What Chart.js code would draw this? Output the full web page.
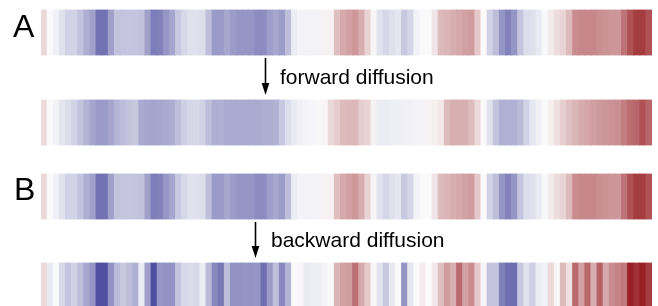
<!DOCTYPE html>
<html>
<head>
<meta charset="utf-8">
<script src="https://cdn.jsdelivr.net/npm/chart.js@4/dist/chart.umd.min.js"></script>
<style>
  html, body { margin: 0; padding: 0; background: #fff; }
  #wrap { width: 658px; height: 306px; }
</style>
</head>
<body>
<div id="wrap"><canvas id="strips"></canvas></div>
<script>
// cell index along the sequence
const cells = Array.from({ length: 100 }, (_, i) => String(i + 1));

// values in [-1, 1]: negative = blue, positive = red
const original = [
  0.15, 0, -0.05, -0.125, -0.2, -0.2, -0.275, -0.375, -0.45, -0.675,
  -0.675, -0.45, -0.275, -0.27, -0.265, -0.27, -0.28, -0.45, -0.625, -0.6,
  -0.5, -0.425, -0.25, -0.175, -0.125, -0.125, -0.15, -0.3, -0.475, -0.475,
  -0.42, -0.47, -0.5, -0.5, -0.5, -0.55, -0.55, -0.46, -0.42, -0.47,
  -0.3, -0.07, -0.03, -0.04, -0.04, -0.03, 0.04, 0.04, 0.26, 0.35,
  0.39, 0.43, 0.33, 0.17, 0.02, -0.12, -0.18, -0.13, -0.1, -0.25,
  -0.18, -0.04, 0, 0, 0.1, 0.28, 0.3, 0.33, 0.36, 0.39,
  0.41, 0.22, 0, -0.2, -0.3, -0.5, -0.6, -0.5, -0.27, -0.15,
  -0.13, -0.08, -0.01, 0.07, 0.13, 0.17, 0.28, 0.48, 0.5, 0.5,
  0.5, 0.47, 0.45, 0.44, 0.44, 0.59, 0.74, 0.83, 0.83, 0.74
];

const forward = [
  0.14, 0, -0.04, -0.1, -0.15, -0.2, -0.275, -0.35, -0.425, -0.475,
  -0.475, -0.425, -0.35, -0.3, -0.275, -0.25, -0.4, -0.42, -0.43, -0.42,
  -0.4, -0.38, -0.3, -0.22, -0.18, -0.17, -0.2, -0.3, -0.38, -0.37,
  -0.4, -0.4, -0.4, -0.4, -0.4, -0.4, -0.38, -0.38, -0.36, -0.25,
  -0.14, -0.08, -0.05, -0.03, -0.02, 0.01, 0.02, 0.15, 0.2, 0.27,
  0.29, 0.29, 0.2, 0.17, 0.04, -0.07, -0.07, -0.06, -0.06, -0.05,
  -0.05, -0.04, -0.03, 0.03, 0.05, 0.08, 0.28, 0.33, 0.33, 0.33,
  0.27, 0.15, 0, -0.12, -0.27, -0.37, -0.37, -0.37, -0.32, -0.2,
  -0.1, -0.05, 0, 0.05, 0.12, 0.19, 0.26, 0.3, 0.34, 0.37,
  0.4, 0.42, 0.44, 0.46, 0.47, 0.55, 0.62, 0.65, 0.74, 0.65
];

const backward = [
  0.15, -0.08, 0, -0.17, -0.27, -0.2, -0.3, -0.42, -0.5, -0.85,
  -0.85, -0.52, -0.32, -0.25, -0.3, -0.37, -0.07, -0.45, -0.85, -0.5,
  -0.52, -0.52, -0.27, -0.17, -0.15, -0.17, -0.07, -0.32, -0.57, -0.65,
  -0.3, -0.52, -0.52, -0.5, -0.52, -0.5, -0.7, -0.47, -0.3, -0.57,
  -0.35, 0, 0.02, -0.08, -0.06, -0.06, -0.03, -0.01, 0.3, 0.39,
  0.41, 0.6, 0.35, 0.22, 0.02, -0.12, -0.25, -0.09, 0, -0.5,
  -0.1, 0, 0.06, 0, 0.08, 0.26, 0.41, 0.33, 0.63, 0.39,
  0.48, 0.22, -0.02, -0.27, -0.27, -0.6, -0.7, -0.7, -0.25, -0.12,
  -0.22, -0.07, -0.05, 0.15, 0.02, 0.28, 0.12, 0.63, 0.39, 0.65,
  0.33, 0.67, 0.35, 0.48, 0.52, 0.57, 0.96, 0.89, 0.96, 0.83
];

// strip layout (vertical bands, in canvas rows)
const rows = [
  { name: 'A', values: original, top: 10, bottom: 55 },
  { name: 'A forward', values: forward, top: 100, bottom: 145 },
  { name: 'B', values: original, top: 174, bottom: 219 },
  { name: 'B backward', values: backward, top: 263, bottom: 308 }
];

const WHITE = [250, 250, 251];
const BLUE = [50, 50, 145];
const RED = [148, 22, 26];

function colorFor(v) {
  const end = v < 0 ? BLUE : RED;
  const t = Math.min(1, Math.abs(v));
  const c = WHITE.map((w, k) => Math.round(w + (end[k] - w) * t));
  return `rgb(${c[0]},${c[1]},${c[2]})`;
}

// labels and arrows drawn on top of the strips
const annotations = {
  id: 'annotations',
  afterDraw(chart) {
    const ctx = chart.ctx;
    ctx.save();
    ctx.fillStyle = '#000';
    ctx.strokeStyle = '#000';
    ctx.textBaseline = 'alphabetic';

    ctx.font = '32px "Liberation Sans", Arial, sans-serif';
    ctx.fillText('A', 13, 37);
    ctx.fillText('B', 14, 200);

    ctx.font = '21px "Liberation Sans", Arial, sans-serif';
    ctx.fillText('forward diffusion', 280, 84);
    ctx.fillText('backward diffusion', 271, 247);

    const arrow = (x, y0, y1) => {
      ctx.lineWidth = 1.6;
      ctx.beginPath();
      ctx.moveTo(x, y0);
      ctx.lineTo(x, y1 - 8);
      ctx.stroke();
      ctx.beginPath();
      ctx.moveTo(x - 3.8, y1 - 12);
      ctx.lineTo(x + 3.8, y1 - 12);
      ctx.lineTo(x, y1);
      ctx.closePath();
      ctx.fill();
    };
    arrow(265.5, 58, 95);
    arrow(255.5, 222, 258);
    ctx.restore();
  }
};

new Chart(document.getElementById('strips'), {
  type: 'bar',
  data: {
    labels: cells,
    datasets: rows.map(r => ({
      label: r.name,
      data: r.values.map(() => [r.top, r.bottom]),
      backgroundColor: r.values.map(colorFor),
      borderWidth: 0,
      inflateAmount: 0.4,
      grouped: false,
      barPercentage: 1,
      categoryPercentage: 1
    }))
  },
  options: {
    responsive: true,
    maintainAspectRatio: false,
    animation: false,
    layout: { padding: { left: 41, right: 6, top: 0, bottom: 0 } },
    plugins: {
      legend: { display: false },
      tooltip: { enabled: false }
    },
    scales: {
      x: { display: false, offset: true, grid: { display: false } },
      y: { display: false, min: 0, max: 306, reverse: true }
    }
  },
  plugins: [annotations]
});
</script>
</body>
</html>
